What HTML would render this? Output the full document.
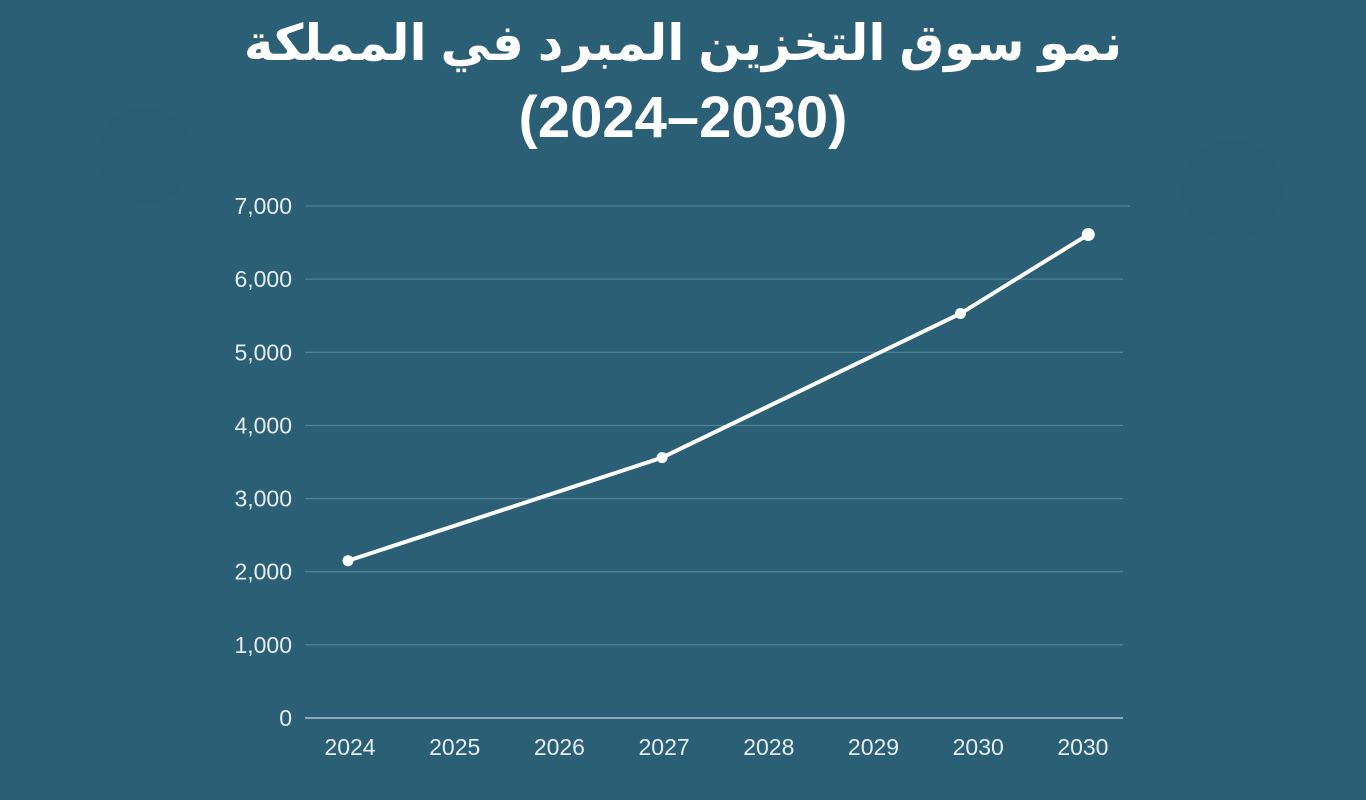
<!DOCTYPE html>
<html><head><meta charset="utf-8">
<style>
html,body{margin:0;padding:0;}
body{width:1366px;height:800px;background:#2a5f75;overflow:hidden;position:relative;font-family:"Liberation Sans","Noto Sans CJK SC",sans-serif;}
.title{position:absolute;left:0;width:1366px;text-align:center;color:#fff;font-weight:bold;}
</style></head>
<body>
<div class="title" style="top:6px;font-size:50px;line-height:74px;font-family:'Liberation Sans','DejaVu Sans',sans-serif;">نمو سوق التخزين المبرد في المملكة</div>
<div class="title" style="top:84px;font-size:58px;line-height:68px;">(2024–2030)</div>
<svg id="chart" width="1366" height="800" style="position:absolute;left:0;top:0">
<circle cx="145" cy="155" r="48" fill="#2b5c72" opacity="0.4"/>
<circle cx="1232" cy="190" r="50" fill="#2b5c72" opacity="0.4"/>
</svg>
<script>
const categories=["2024","2025","2026","2027","2028","2029","2030","2030"];
const yTicks=[0,1000,2000,3000,4000,5000,6000,7000];
const pointIdx=[0,3,5.85,7.07];
const values=[2150,3560,5530,6610];
const svg=document.getElementById('chart');
const NS='http://www.w3.org/2000/svg';
const x0=350,dx=104.7,y0=718,yMax=7000,yTop=206;
const X=i=>x0+i*dx;
const Y=v=>y0-(v/yMax)*(y0-yTop);
function mk(t,a){const e=document.createElementNS(NS,t);for(const k in a)e.setAttribute(k,a[k]);svg.appendChild(e);return e;}
yTicks.forEach((v,i)=>{
  const l=mk('line',{x1:305,x2:i==yTicks.length-1?1130:1123,y1:Y(v),y2:Y(v),stroke:v==0?'#c8d6dc':'#5a8a9c','stroke-width':v==0?1.2:1});
  
  
  const t=mk('text',{x:292,y:Y(v)+8,'text-anchor':'end',fill:'#e6eef1','font-size':23,'font-family':'Liberation Sans, sans-serif'});
  t.textContent=v.toLocaleString('en-US');
  
  
});
categories.forEach((c,i)=>{
  const t=mk('text',{x:X(i),y:755,'text-anchor':'middle',fill:'#e6eef1','font-size':23,'font-family':'Liberation Sans, sans-serif'});
  t.textContent=c;
  
  
});
const pts=values.map((v,i)=>[X(pointIdx[i])-2,Y(v)]);
const pl=mk('polyline',{points:pts.map(p=>p.join(',')).join(' '),fill:'none',stroke:'#fff','stroke-width':4,'stroke-linejoin':'round'});


pts.forEach((p,i)=>{
  const c=mk('circle',{cx:p[0],cy:p[1],r:i==pts.length-1?6.5:5.5,fill:'#fff'});
  
  
});
</script>
</body></html>
